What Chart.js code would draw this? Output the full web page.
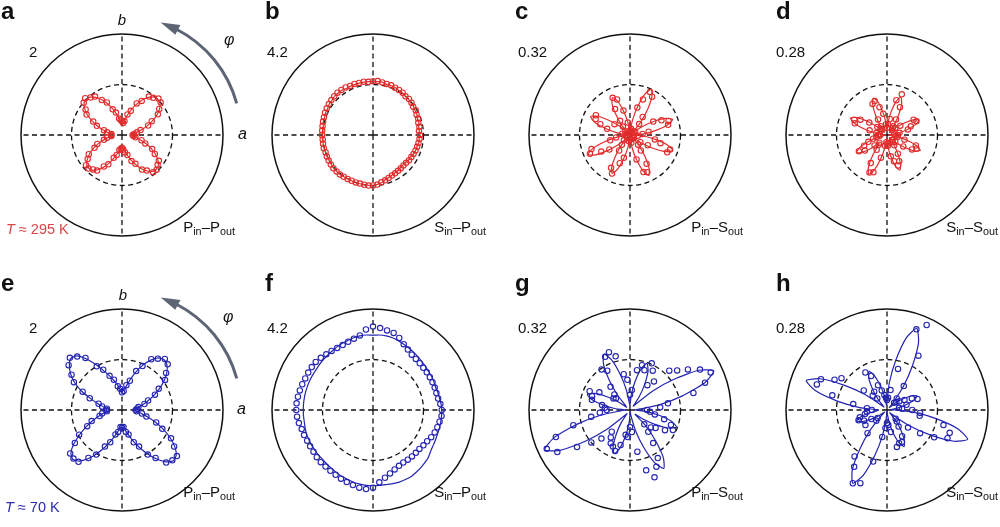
<!DOCTYPE html>
<html>
<head>
<meta charset="utf-8">
<script src="https://cdn.jsdelivr.net/npm/chart.js@4.4.1/dist/chart.umd.min.js"></script>
<style>
  body { margin: 0; width: 1000px; height: 527px; position: relative; overflow: hidden; background: #fff;
         font-family: "Liberation Sans", Arial, sans-serif; color: #111; }
  canvas.pol { position: absolute; }
  .t { position: absolute; white-space: nowrap; line-height: 1; z-index: 5; }
  .t sub { font-size: 0.72em; vertical-align: -0.32em; line-height: 0; }
</style>
</head>
<body>
<script>
// polar angle phi (deg, counter-clockwise from a)
var phiDeg = [0,5,10,15,20,25,30,35,40,45,50,55,60,65,70,75,80,85,
    90,95,100,105,110,115,120,125,130,135,140,145,150,155,160,165,170,175,
    180,185,190,195,200,205,210,215,220,225,230,235,240,245,250,255,260,265,
    270,275,280,285,290,295,300,305,310,315,320,325,330,335,340,345,350,355];

var panelLetters = ['a', 'b', 'c', 'd', 'e', 'f', 'g', 'h'];
var maxLabels = ['2', '4.2', '0.32', '0.28', '2', '4.2', '0.32', '0.28'];
var rMax = [2, 4.2, 0.32, 0.28, 2, 4.2, 0.32, 0.28];
var polIn = ['P', 'S', 'P', 'S', 'P', 'S', 'P', 'S'];
var polOut = ['P', 'P', 'S', 'S', 'P', 'P', 'S', 'S'];
var tempLabels = ['295 K', '70 K'];

// a: T = 295 K, Pin-Pout
var fitA = [0.20,0.22,0.29,0.40,0.53,0.67,0.80,0.91,0.98,1.00,0.98,0.91,0.80,0.67,0.53,0.40,0.29,0.22,
    0.26,0.28,0.34,0.44,0.56,0.69,0.81,0.91,0.98,1.00,0.98,0.90,0.79,0.65,0.51,0.38,0.28,0.22,
    0.20,0.22,0.28,0.38,0.50,0.62,0.74,0.84,0.91,0.93,0.91,0.84,0.74,0.62,0.50,0.39,0.31,0.27,
    0.26,0.28,0.33,0.42,0.53,0.65,0.77,0.87,0.94,0.96,0.94,0.87,0.77,0.64,0.51,0.38,0.28,0.22];
var ptsA = [0.21,0.24,0.30,0.38,0.55,0.65,0.82,0.90,1.00,1.02,0.96,0.93,0.78,0.69,0.51,0.42,0.28,0.24,
    0.27,0.30,0.33,0.46,0.54,0.71,0.80,0.93,0.97,1.03,0.99,0.88,0.81,0.63,0.53,0.37,0.30,0.21,
    0.22,0.21,0.30,0.37,0.52,0.60,0.76,0.83,0.93,0.94,0.89,0.86,0.72,0.64,0.48,0.41,0.30,0.28,
    0.25,0.29,0.35,0.41,0.55,0.63,0.79,0.86,0.96,0.97,0.92,0.89,0.75,0.66,0.49,0.40,0.27,0.23];

// b: Sin-Pout
var fitB = [1.93,1.93,1.93,1.97,1.97,2.02,2.02,2.06,2.06,2.10,2.10,2.14,2.14,2.18,2.18,2.18,2.23,2.23,
    2.23,2.23,2.23,2.23,2.23,2.23,2.23,2.27,2.27,2.27,2.23,2.23,2.18,2.18,2.14,2.14,2.10,2.10,
    2.10,2.10,2.10,2.10,2.10,2.10,2.10,2.12,2.14,2.14,2.14,2.12,2.10,2.10,2.10,2.10,2.10,2.10,
    2.10,2.06,2.02,1.93,1.89,1.85,1.81,1.81,1.76,1.76,1.76,1.81,1.81,1.85,1.89,1.89,1.93,1.93];
var ptsB = [1.95,1.92,1.96,1.95,2.00,2.00,2.05,2.04,2.09,2.12,2.10,2.15,2.16,2.17,2.20,2.20,2.22,2.25,
    2.24,2.22,2.25,2.24,2.26,2.25,2.28,2.29,2.30,2.28,2.26,2.24,2.22,2.20,2.17,2.15,2.13,2.12,
    2.12,2.10,2.11,2.12,2.10,2.12,2.13,2.14,2.15,2.14,2.14,2.12,2.11,2.10,2.10,2.09,2.10,2.11,
    2.10,2.07,2.00,1.95,1.90,1.86,1.84,1.82,1.80,1.79,1.80,1.83,1.84,1.86,1.88,1.90,1.92,1.94];

// c: Pin-Sout
var fitC = [.014,.046,.084,.124,.144,.124,.084,.046,.014,.016,.051,.093,.138,.160,.138,.093,.051,.016,
    .003,.013,.042,.076,.113,.131,.113,.076,.042,.014,.044,.080,.119,.138,.119,.080,.044,.014,
    .003,.015,.047,.085,.126,.147,.126,.085,.047,.015,.043,.078,.115,.134,.115,.078,.043,.013,
    .003,.014,.045,.082,.121,.141,.121,.082,.045,.014,.014,.046,.084,.124,.144,.124,.084,.046];
var ptsC = [.012,.040,.060,.125,.130,.110,.085,.020,.015,.006,.045,.070,.140,.150,.120,.090,.020,.015,
    .010,.012,.040,.080,.120,.130,.095,.055,.035,.010,.020,.060,.125,.120,.100,.075,.025,.012,
    .008,.015,.045,.065,.130,.140,.105,.080,.025,.012,.040,.060,.120,.135,.095,.075,.020,.010,
    .006,.015,.025,.080,.125,.130,.105,.060,.040,.010,.015,.040,.065,.130,.135,.100,.080,.025];

// d: Sin-Sout
var fitD = [.004,.010,.031,.057,.084,.098,.084,.057,.031,.010,.011,.036,.065,.096,.112,.096,.065,.036,
    .011,.035,.063,.094,.109,.094,.063,.035,.011,.011,.036,.065,.096,.112,.096,.065,.036,.011,
    .004,.004,.010,.031,.057,.084,.098,.084,.057,.031,.038,.070,.103,.120,.103,.070,.038,.012,
    .010,.033,.060,.089,.104,.089,.060,.033,.010,.010,.033,.059,.088,.102,.088,.059,.033,.010];
var ptsD = [.030,.020,.035,.060,.070,.090,.085,.045,.030,.020,.025,.030,.050,.085,.120,.100,.045,.030,
    .020,.030,.060,.080,.100,.095,.050,.030,.020,.025,.035,.060,.085,.100,.095,.050,.030,.020,
    .025,.020,.030,.040,.055,.070,.090,.075,.045,.030,.035,.050,.090,.115,.110,.065,.030,.020,
    .025,.030,.060,.075,.090,.080,.060,.035,.025,.020,.030,.055,.080,.090,.085,.050,.030,.025];

// e: T = 70 K, Pin-Pout
var fitE = [0.26,0.28,0.34,0.44,0.56,0.70,0.86,1.02,1.16,1.26,1.30,1.26,1.14,0.98,0.80,0.62,0.48,0.40,
    0.36,0.40,0.50,0.60,0.72,0.86,1.04,1.24,1.40,1.44,1.36,1.24,1.08,0.88,0.66,0.50,0.38,0.32,
    0.30,0.32,0.38,0.48,0.62,0.78,0.96,1.16,1.32,1.38,1.32,1.18,1.00,0.82,0.66,0.52,0.42,0.36,
    0.34,0.36,0.42,0.52,0.66,0.82,1.00,1.18,1.34,1.43,1.40,1.28,1.10,0.90,0.70,0.52,0.38,0.30];
var ptsE = [0.27,0.30,0.33,0.46,0.55,0.72,0.84,1.04,1.14,1.28,1.32,1.24,1.16,0.96,0.82,0.60,0.50,0.38,
    0.35,0.42,0.48,0.62,0.72,0.88,1.00,1.26,1.38,1.46,1.38,1.22,1.10,0.86,0.68,0.48,0.40,0.30,
    0.31,0.30,0.40,0.46,0.64,0.76,0.98,1.14,1.34,1.36,1.34,1.16,1.02,0.80,0.68,0.50,0.44,0.34,
    0.35,0.34,0.44,0.50,0.68,0.80,1.02,1.16,1.36,1.41,1.42,1.26,1.12,0.88,0.72,0.50,0.40,0.29];

// f: Sin-Pout
var fitF = [2.86,2.84,2.81,2.79,2.77,2.79,2.81,2.81,2.84,2.86,2.90,2.94,2.98,3.02,3.07,3.11,3.13,3.13,
    3.11,3.13,3.13,3.11,3.07,3.05,3.02,2.98,2.96,2.94,2.92,2.90,2.90,2.90,2.90,2.90,2.90,2.90,
    2.90,2.90,2.90,2.92,2.94,2.94,2.94,2.94,2.94,2.94,2.96,2.98,3.02,3.05,3.07,3.11,3.13,3.15,
    3.15,3.15,3.15,3.17,3.19,3.19,3.19,3.15,3.11,3.07,3.02,2.94,2.90,2.88,2.86,2.86,2.86,2.86];
var ptsF = [2.86,2.81,2.75,2.73,2.73,2.73,2.73,2.73,2.73,2.75,2.77,2.81,2.90,3.02,3.19,3.32,3.36,3.42,
    3.47,3.36,3.15,3.07,3.02,2.98,2.98,3.00,3.02,3.07,3.11,3.11,3.11,3.11,3.13,3.15,3.17,3.19,
    3.19,3.17,3.13,3.07,3.05,3.02,3.02,3.02,3.05,3.07,3.07,3.09,3.11,3.15,3.19,3.23,3.28,3.30,
    3.23,3.02,2.86,2.73,2.63,2.56,2.52,2.52,2.52,2.52,2.52,2.56,2.60,2.67,2.73,2.77,2.81,2.86];

// g: Pin-Sout
var fitG = [.016,.029,.094,.170,.252,.293,.252,.170,.094,.029,.016,.050,.091,.135,.157,.135,.091,.050,
    .016,.020,.062,.113,.168,.195,.168,.113,.062,.020,.014,.046,.084,.124,.144,.124,.084,.046,
    .014,.030,.095,.173,.256,.298,.256,.173,.095,.030,.015,.047,.085,.126,.147,.126,.085,.047,
    .015,.004,.021,.068,.124,.184,.214,.184,.124,.068,.021,.050,.091,.135,.157,.135,.091,.050];
var ptsG = [.054,.096,.122,.208,.253,.282,.256,.224,.195,.176,.118,.096,.144,.163,.134,.147,.128,.064,
    .048,.096,.115,.176,.195,.186,.144,.157,.096,.070,.058,.064,.112,.141,.128,.125,.090,.080,
    .074,.096,.125,.186,.250,.291,.266,.205,.160,.128,.090,.106,.122,.128,.138,.115,.080,.086,
    .054,.070,.134,.198,.227,.198,.176,.128,.090,.064,.086,.099,.128,.150,.138,.112,.080,.064];

// h: Sin-Sout
var fitH = [.024,.009,.029,.053,.079,.092,.079,.053,.029,.009,.024,.077,.140,.207,.241,.207,.140,.077,
    .024,.012,.038,.068,.101,.118,.101,.068,.038,.012,.024,.076,.138,.205,.238,.205,.138,.076,
    .024,.029,.052,.077,.090,.077,.052,.029,.009,.022,.072,.130,.193,.224,.193,.130,.072,.022,
    .004,.011,.036,.065,.096,.112,.096,.065,.036,.011,.024,.076,.138,.205,.238,.205,.138,.076];
var ptsH = [.070,.042,.034,.056,.090,.076,.056,.042,.034,.028,.042,.081,.174,.260,.238,.118,.056,.034,
    .028,.034,.042,.056,.073,.104,.120,.062,.042,.056,.084,.154,.168,.202,.207,.157,.095,.056,
    .042,.056,.062,.078,.084,.070,.050,.073,.034,.042,.084,.157,.182,.224,.216,.148,.076,.050,
    .036,.042,.062,.106,.098,.098,.084,.056,.042,.034,.076,.112,.151,.185,.185,.162,.092,.092];

var fits = [fitA, fitB, fitC, fitD, fitE, fitF, fitG, fitH];
var points = [ptsA, ptsB, ptsC, ptsD, ptsE, ptsF, ptsG, ptsH];

// layout
var centerX = [122, 373, 630, 887];
var centerY = [135, 410];
var RED = 'rgb(226,44,44)';
var BLUE = 'rgb(36,36,178)';

function addText(html, x, base, size, o) {
    o = o || {};
    var d = document.createElement('div');
    d.className = 't';
    d.innerHTML = html;
    d.style.fontSize = size + 'px';
    d.style.top = (base - 0.8465 * size) + 'px';
    if (o.align === 'right') {
        d.style.right = (1000 - x) + 'px';
    } else if (o.align === 'center') {
        d.style.left = x + 'px';
        d.style.transform = 'translateX(-50%)';
    } else {
        d.style.left = x + 'px';
    }
    if (o.bold) d.style.fontWeight = 'bold';
    if (o.italic) d.style.fontStyle = 'italic';
    if (o.color) d.style.color = o.color;
    document.body.appendChild(d);
}

// curved arrow for phi
var phiArrow = {
    id: 'phiArrow',
    afterDraw: function (chart) {
        var s = chart.scales.r;
        var ctx = chart.ctx;
        var R = 119, rad = Math.PI / 180;
        ctx.save();
        ctx.strokeStyle = '#5d6575';
        ctx.fillStyle = '#5d6575';
        ctx.lineWidth = 3;
        ctx.beginPath();
        ctx.arc(s.xCenter, s.yCenter, R, -15.4 * rad, -63 * rad, true);
        ctx.stroke();
        var tb = -62 * rad, tt = -71 * rad;
        ctx.beginPath();
        ctx.moveTo(s.xCenter + R * Math.cos(tt), s.yCenter + R * Math.sin(tt));
        ctx.lineTo(s.xCenter + (R + 5.5) * Math.cos(tb), s.yCenter + (R + 5.5) * Math.sin(tb));
        ctx.lineTo(s.xCenter + (R - 5.5) * Math.cos(tb), s.yCenter + (R - 5.5) * Math.sin(tb));
        ctx.closePath();
        ctx.fill();
        ctx.restore();
    }
};

var N = phiDeg.length;
// radar index runs clockwise from a, phi runs counter-clockwise
var order = phiDeg.map(function (p, i) { return (N - i) % N; });

function makePanel(k) {
    var cx = centerX[k % 4], cy = centerY[Math.floor(k / 4)];
    var color = k < 4 ? RED : BLUE;
    var cv = document.createElement('canvas');
    cv.className = 'pol';
    cv.width = 260; cv.height = 260;
    cv.style.width = '260px'; cv.style.height = '260px';
    cv.style.left = (cx - 130) + 'px';
    cv.style.top = (cy - 130) + 'px';
    document.body.appendChild(cv);

    var fit = fits[k], pts = points[k];
    new Chart(cv, {
        type: 'radar',
        data: {
            labels: order.map(function (j) { return phiDeg[j]; }),
            datasets: [
                {
                    data: order.map(function (j) { return fit[j]; }),
                    borderColor: color,
                    backgroundColor: 'rgba(0,0,0,0)',
                    borderWidth: 1.2,
                    pointRadius: 0,
                    fill: false,
                    tension: 0.2
                },
                {
                    data: order.map(function (j) { return pts[j]; }),
                    showLine: false,
                    fill: false,
                    backgroundColor: 'rgba(0,0,0,0)',
                    pointRadius: 2.7,
                    pointBorderWidth: 1.1,
                    pointBorderColor: color,
                    pointBackgroundColor: 'rgba(255,255,255,0)'
                }
            ]
        },
        options: {
            responsive: false,
            animation: false,
            events: [],
            layout: { padding: 29 },
            plugins: { legend: { display: false }, tooltip: { enabled: false }, filler: { propagate: false } },
            scales: {
                r: {
                    min: 0,
                    max: rMax[k],
                    startAngle: 90,
                    ticks: { display: false, count: 3 },
                    pointLabels: { display: false },
                    grid: {
                        circular: true,
                        color: '#111',
                        lineWidth: function (c) { return c.index === 2 ? 1.5 : 1.3; }
                    },
                    border: {
                        dash: function (c) { return c.index === 1 ? [5, 3.5] : []; }
                    },
                    angleLines: {
                        color: '#111',
                        lineWidth: function (c) { return c.index % 18 === 0 ? 1.3 : 0; },
                        borderDash: [5, 3.5]
                    }
                }
            }
        },
        plugins: (k === 0 || k === 4) ? [phiArrow] : []
    });

    // panel texts
    var row = Math.floor(k / 4);
    var letterX = [1, 265, 515, 776][k % 4];
    var maxX = [29, 267, 518, 776][k % 4];
    var polRight = [235, 486, 743, 998][k % 4];
    addText(panelLetters[k], letterX, row ? 291 : 19, 24, { bold: true });
    addText(maxLabels[k], maxX, row ? 333 : 57, 15);
    addText(polIn[k] + '<sub>in</sub>\u2013' + polOut[k] + '<sub>out</sub>', polRight, row ? 497 : 232, 15, { align: 'right' });
}

for (var k = 0; k < 8; k++) {
    makePanel(k);
}

// axis names and temperature
addText('b', 122, 25, 15, { italic: true, align: 'center' });
addText('a', 238, 140, 16, { italic: true });
addText('\u03c6', 224, 46, 16, { italic: true });
addText('b', 123, 300, 15, { italic: true, align: 'center' });
addText('a', 237, 415, 16, { italic: true });
addText('\u03c6', 223, 323, 16, { italic: true });
addText('<i>T</i> \u2248 ' + tempLabels[0], 6, 234, 14.5, { color: 'rgb(214,72,72)' });
addText('<i>T</i> \u2248 ' + tempLabels[1], 5, 512, 14.5, { color: 'rgb(44,44,170)' });
</script>
</body>
</html>
